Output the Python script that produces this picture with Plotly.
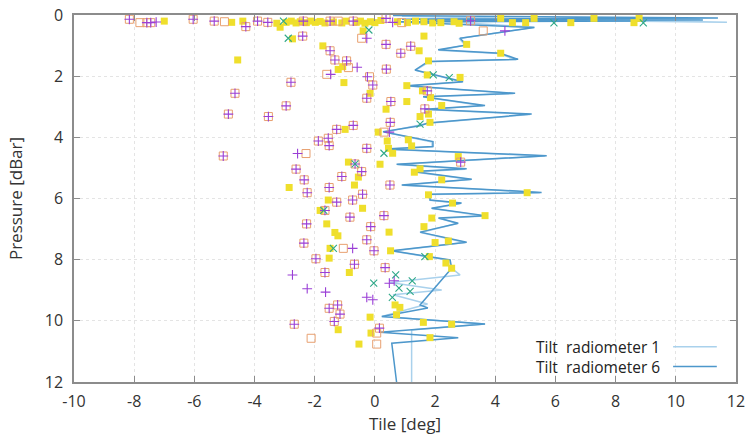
import plotly.graph_objects as go

# ---- tilt profiles (tilt in deg vs pressure in dBar) ----
r6_tilt = [0.6, 11.4, 0.9, 10.9, 1.5, 9.0, 0.7, 5.3, 2.83, 3.05, 2.10, 4.16, 4.76, 1.77,
           1.33, 2.93, 1.06, 4.66, 1.60, 3.66, 1.66, 5.21, 1.76, 1.50, 0.27, 1.93, 1.93,
           0.34, 5.71, 0.72, 3.05, 1.27, 3.22, 0.89, 5.54, 1.83, 1.83, 2.88, 1.88, 3.66,
           2.11, 2.77, 1.50, 3.05, 0.56, 2.50, 2.55, 1.50, 1.76, 0.23, 3.66, 0.17, 2.77,
           0.56, 0.72]
r6_pres = [0.02, 0.10, 0.14, 0.16, 0.18, 0.20, 0.22, 0.41, 0.76, 0.98, 1.14, 1.25, 1.45, 1.52,
           1.80, 2.18, 2.31, 2.56, 2.67, 2.96, 3.08, 3.24, 3.53, 3.62, 3.82, 4.14, 4.30,
           4.38, 4.60, 4.88, 5.03, 5.12, 5.37, 5.56, 5.80, 5.86, 6.05, 6.15, 6.32, 6.56,
           6.64, 6.81, 7.10, 7.43, 7.71, 8.01, 8.28, 9.48, 9.58, 9.86, 10.10, 10.37, 10.55,
           10.73, 12.0]

r1_tilt = [0.9, 11.7, 1.2, 10.8, 2.0, 5.3, 2.80, 3.00, 2.12, 4.10, 4.70, 1.80, 1.35, 2.90,
           1.08, 4.60, 1.62, 3.60, 1.70, 5.15, 1.78, 0.30, 1.90, 1.90, 0.36, 5.65, 0.75,
           3.00, 1.30, 3.18, 0.92, 5.48, 1.85, 1.85, 2.85, 1.90, 3.62, 2.13, 2.74, 1.52,
           3.00, 0.58, 2.47, 2.55, 2.83, 0.50, 2.22, 0.60, 1.75, 0.23, 3.66, 1.22, 1.22]
r1_pres = [0.04, 0.24, 0.12, 0.13, 0.20, 0.40, 0.77, 0.99, 1.15, 1.26, 1.46, 1.53, 1.81, 2.19,
           2.32, 2.57, 2.68, 2.97, 3.09, 3.25, 3.54, 3.83, 4.15, 4.31, 4.39, 4.61, 4.89,
           5.04, 5.13, 5.38, 5.57, 5.81, 5.87, 6.06, 6.16, 6.33, 6.57, 6.65, 6.82, 7.11,
           7.44, 7.72, 8.02, 8.28, 8.50, 8.75, 8.99, 9.15, 9.45, 9.86, 10.10, 10.30, 12.0]

# ---- individual samples ----
# points carrying both a "+" and an open box
both_x = [-8.16, -7.58, -7.45, -6.04, -5.34, -4.29, -3.90, -3.56, -2.38, -1.49, -0.72, 0.37,
          3.18, -2.40, -1.49, -1.33, -0.94, -2.79, -4.65, -4.87, -3.54, -2.95, -1.27, -0.72,
          -1.88, -1.55, -1.52, -0.27, -5.04, -0.66, -2.62, -0.44, -2.35, -1.10, -1.52, -2.25,
          -0.41, -1.27, -0.74, -1.66, -0.83, -2.27, -0.14, -2.36, -0.27, -1.96, -0.68, -1.66,
          -1.52, -1.24, -1.16, -1.35, -2.68, 0.34, 0.15, 0.37, 0.86, 1.19, 0.38, -0.07,
          -0.27, 0.53, 1.66, 0.51, 1.74, 2.85, 0.50, 0.30, -0.03]
both_y = [0.14, 0.25, 0.25, 0.14, 0.20, 0.38, 0.20, 0.24, 0.20, 0.20, 0.20, 0.11,
          0.19, 0.69, 1.17, 1.47, 1.50, 2.20, 2.56, 3.24, 3.32, 2.97, 3.74, 3.61,
          4.12, 4.03, 4.27, 4.36, 4.61, 4.87, 5.04, 5.12, 5.39, 5.28, 5.64, 5.81,
          5.86, 6.12, 6.05, 6.39, 6.61, 6.83, 6.92, 7.46, 7.35, 7.97, 8.15, 8.42,
          9.59, 9.48, 9.78, 10.02, 10.11, 8.26, 10.24, 0.96, 1.25, 1.02, 1.77, 2.29,
          2.72, 2.83, 3.07, 3.51, 2.48, 4.81, 5.56, 6.56, 7.71]

plus_x = [-7.27, 0.59, -0.27, -0.59, -1.47, -0.25, -2.57, -0.74, -2.74, -2.25, -1.64, -0.27,
          -0.07, 0.48, 0.64, 0.48, 4.32]
plus_y = [0.23, 0.24, 0.76, 1.71, 1.94, 2.02, 4.53, 7.63, 8.50, 8.95, 9.06, 9.23,
          9.31, 8.77, 8.69, 3.83, 0.52]

box_x = [-7.81, -5.00, -1.22, 0.89, -0.44, -0.88, -1.60, -0.18, -2.29, -1.05, -2.12, 0.06,
         0.06, 0.30, 3.60]
box_y = [0.25, 0.22, 0.20, 0.25, 0.76, 1.72, 1.94, 2.02, 4.53, 7.63, 10.57, 10.40,
         10.76, 3.83, 0.52]

cross_x = [-3.04, -2.88, -0.20, -0.66, -1.38, -0.04, 0.69, 0.80, 1.24, 1.17, 0.58, 1.94,
           2.47, 1.50, 0.30, 1.66, 5.95, 8.92, -1.70]
cross_y = [0.20, 0.76, 0.49, 4.87, 7.63, 8.77, 8.50, 8.93, 8.69, 9.04, 9.23, 1.96,
           2.05, 3.57, 4.52, 7.90, 0.26, 0.26, 6.39]

fill_x = [-7.00, -4.76, -4.39, -3.26, -3.15, -2.95, -2.78, -2.62, -2.48, -2.28, -2.12, -1.98,
          -1.82, -1.66, -1.38, -1.10, -0.96, -0.62, -0.48, -0.33, -0.15, 0.00, 0.20, 0.75,
          1.08, 1.35, 1.63, 1.92, 2.19, 2.63, 2.80, 4.18, 4.57, 5.01, 5.29, 6.51, 7.28,
          8.61, 8.78,
          -0.39, -2.74, -1.73, -1.22, -1.07, -1.03, -4.56, -0.99, -0.88, -0.55, -2.85, -0.68,
          -1.55, -0.41, -1.82, -1.60, -1.33, -1.23, -1.49, -1.52, -0.85, -0.16, -1.22, -0.13,
          -0.53, 0.67, 0.83, 0.72, 1.61, 1.83, 2.55, 1.63, 1.47, 1.78, 3.05, 4.18, 1.74,
          2.83, 1.06, 1.58, 1.85, 1.06, -0.16, 2.22, 0.37, 1.78, 1.50, 1.83, 0.11, 0.41,
          1.11, 0.45, 0.59, 1.22, 0.17, 2.77, 1.31, 1.50, 2.22, 5.06, 1.78, 2.58, 1.89,
          3.66, 1.63, 0.47, 2.44, 2.00, 0.52, 1.81, 2.36, 2.55]
fill_y = [0.20, 0.24, 0.20, 0.27, 0.40, 0.24, 0.20, 0.26, 0.22, 0.25, 0.20, 0.24,
          0.21, 0.26, 0.23, 0.26, 0.20, 0.24, 0.20, 0.27, 0.22, 0.25, 0.18, 0.22,
          0.25, 0.20, 0.22, 0.26, 0.25, 0.22, 0.27, 0.11, 0.25, 0.25, 0.11, 0.25, 0.11,
          0.25, 0.11,
          0.52, 0.78, 1.01, 1.78, 1.69, 2.21, 1.47, 3.74, 4.81, 5.30, 5.64, 5.56,
          6.05, 6.32, 6.39, 6.83, 7.11, 7.22, 7.63, 7.95, 8.42, 9.88, 10.29, 10.40,
          10.76, 9.48, 9.56, 9.80, 10.05, 10.55, 10.11, 0.69, 1.17, 1.50, 0.96, 1.25, 1.96,
          2.04, 2.31, 2.48, 2.70, 2.83, 2.56, 2.96, 3.08, 3.24, 3.32, 3.51, 3.83, 4.12,
          4.08, 4.36, 4.52, 4.28, 4.88, 4.63, 5.14, 5.03, 5.39, 5.81, 5.88, 6.15, 6.64,
          6.56, 6.92, 7.10, 7.39, 7.44, 7.71, 7.90, 8.11, 8.28]

x_ticks = [-10, -8, -6, -4, -2, 0, 2, 4, 6, 8, 10, 12]
y_ticks = [0, 2, 4, 6, 8, 10, 12]

legend_names = ["Tilt\u00a0 radiometer 1", "Tilt\u00a0 radiometer 6"]
line_colors = ["#a9d1ec", "#4d97cb"]

PURPLE = "#9a3fd6"
GREEN = "#2ea888"
ORANGE = "#e8a070"
YELLOW = "#efdf2c"

fig = go.Figure()

fig.add_trace(go.Scatter(x=r1_tilt, y=r1_pres, mode="lines",
                         line=dict(color=line_colors[0], width=1.5), name=legend_names[0]))
fig.add_trace(go.Scatter(x=r6_tilt, y=r6_pres, mode="lines",
                         line=dict(color=line_colors[1], width=1.5), name=legend_names[1]))

fig.add_trace(go.Scatter(x=fill_x, y=fill_y, mode="markers",
                         marker=dict(symbol="square", size=7, color=YELLOW, line=dict(width=0))))
fig.add_trace(go.Scatter(x=both_x + box_x, y=both_y + box_y, mode="markers",
                         marker=dict(symbol="square-open", size=8, color=ORANGE,
                                     line=dict(width=1))))
fig.add_trace(go.Scatter(x=both_x + plus_x, y=both_y + plus_y, mode="markers",
                         marker=dict(symbol="cross-thin-open", size=7, color=PURPLE,
                                     line=dict(width=1.1))))
fig.add_trace(go.Scatter(x=cross_x, y=cross_y, mode="markers",
                         marker=dict(symbol="x-thin-open", size=7, color=GREEN,
                                     line=dict(width=1.1))))

axis_common = dict(
    showline=True, linecolor="#8c8c8c", linewidth=1.5, mirror="allticks",
    ticks="inside", ticklen=6, tickcolor="#8c8c8c", tickwidth=1.2,
    showgrid=True, gridcolor="#e4e4e4", griddash="dot", gridwidth=1,
    zeroline=False, tickfont=dict(family="Open Sans", size=16, color="#333333"),
)

fig.update_xaxes(range=[-10, 12], tickvals=x_ticks, ticktext=[str(v) for v in x_ticks],
                 title=dict(text="Tile [deg]", font=dict(family="Open Sans", size=17, color="#333333"),
                            standoff=6),
                 ticklabelstandoff=4, **axis_common)
fig.update_yaxes(range=[12, 0], tickvals=y_ticks, ticktext=[str(v) for v in y_ticks],
                 title=dict(text="Pressure [dBar]", font=dict(family="Open Sans", size=17, color="#333333"),
                            standoff=18),
                 ticklabelstandoff=6, **axis_common)

# key in the lower right corner: label followed by a short line sample
for name, color, yp in zip(legend_names, line_colors, [0.096, 0.042]):
    fig.add_annotation(x=0.888, y=yp, xref="paper", yref="paper", text=name,
                       showarrow=False, xanchor="right", yanchor="middle",
                       font=dict(family="Open Sans", size=15.5, color="#222222"))
    fig.add_shape(type="line", xref="paper", yref="paper", x0=0.905, x1=0.971,
                  y0=yp, y1=yp, line=dict(color=color, width=1.5))

fig.update_layout(
    width=748, height=438, showlegend=False,
    margin=dict(l=74, r=12, t=15, b=56, autoexpand=False),
    paper_bgcolor="white", plot_bgcolor="white",
)

fig.write_html("out.html")
